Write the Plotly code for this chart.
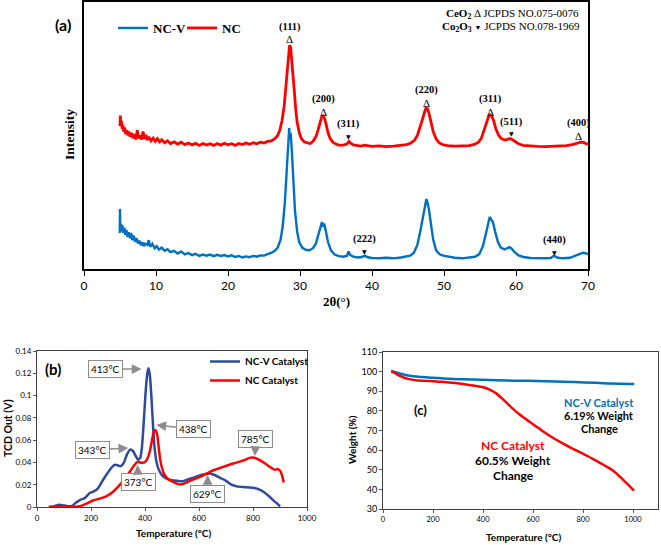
import plotly.graph_objects as go

SERIF = "Liberation Serif"
SANS = "Lato"

# ---------------- (a) XRD data : (2theta, intensity a.u.) ----------------
xrd_ticks = [0, 10, 20, 30, 40, 50, 60, 70]

ncv_xrd = [
    (4.97, 13.5), (5.0, 22.5), (5.03, 14.5), (5.1, 17.0), (5.2, 14.0), (5.3, 16.5), (5.45, 13.5), (5.6, 15.5),
    (5.75, 12.8), (5.9, 14.5), (6.05, 12.0), (6.2, 13.8), (6.4, 11.5), (6.55, 13.5), (6.7, 10.8), (6.9, 12.5),
    (7.1, 10.2), (7.3, 11.5), (7.5, 9.6), (7.7, 10.6), (7.9, 8.9), (8.1, 10.0), (8.3, 8.6), (8.5, 9.5),
    (8.8, 9.0), (9.0, 10.8), (9.2, 8.3), (9.5, 9.4), (9.8, 7.8), (10.1, 8.6), (10.4, 7.3), (10.8, 8.0),
    (11.2, 6.8), (11.6, 7.4), (12.0, 6.3), (12.5, 6.8), (13.0, 5.8), (13.5, 6.6), (14.0, 5.5), (14.5, 6.0),
    (15.0, 5.2), (15.5, 5.7), (16.0, 4.9), (16.5, 5.4), (17.0, 5.0), (17.5, 5.4), (18.0, 4.8), (18.5, 5.3),
    (19.0, 4.9), (19.5, 5.2), (20.0, 4.7), (20.5, 5.1), (21.0, 4.5), (21.5, 4.9), (22.0, 4.3), (22.5, 4.7),
    (23.0, 4.4), (23.5, 4.9), (24.0, 4.6), (24.5, 5.1), (25.0, 5.0), (25.5, 5.6), (26.0, 6.0), (26.5, 6.8),
    (26.9, 8.0), (27.3, 11.0), (27.6, 16.0), (27.9, 25.0), (28.15, 36.0), (28.35, 46.0), (28.5, 52.8),
    (28.6, 48.5), (28.7, 51.0), (28.85, 45.0), (29.05, 34.0), (29.3, 22.0), (29.6, 14.0), (29.9, 10.0),
    (30.3, 8.0), (30.8, 7.2), (31.3, 7.0), (31.8, 7.8), (32.2, 9.5), (32.6, 13.0), (32.9, 16.5), (33.05, 17.6),
    (33.2, 15.8), (33.35, 17.0), (33.6, 14.0), (33.9, 10.0), (34.3, 7.0), (34.8, 5.4), (35.4, 4.8), (36.0, 4.6),
    (36.5, 4.9), (36.75, 6.6), (36.95, 5.3), (37.4, 4.6), (38.0, 4.3), (38.6, 4.5), (39.0, 5.0), (39.4, 4.4),
    (40.0, 4.1), (41.0, 4.0), (42.0, 4.2), (43.0, 4.0), (44.0, 4.3), (44.8, 4.8), (45.3, 5.0), (45.8, 6.0),
    (46.3, 9.0), (46.7, 14.0), (47.1, 20.0), (47.4, 24.5), (47.55, 26.2), (47.7, 25.0), (47.9, 22.5),
    (48.2, 16.5), (48.5, 11.0), (48.9, 7.0), (49.4, 5.5), (49.9, 5.0), (50.5, 4.6), (51.5, 4.2), (52.5, 4.0),
    (53.5, 4.2), (54.3, 4.6), (54.9, 5.6), (55.4, 8.5), (55.8, 13.0), (56.1, 17.0), (56.35, 19.5),
    (56.55, 18.6), (56.8, 17.5), (57.1, 14.0), (57.5, 10.0), (57.9, 8.0), (58.4, 7.3), (58.8, 7.8),
    (59.1, 8.2), (59.4, 7.6), (59.8, 6.3), (60.3, 5.2), (61.0, 4.5), (62.0, 4.1), (63.0, 4.0), (64.0, 4.0),
    (64.8, 4.1), (65.3, 5.0), (65.7, 4.3), (66.5, 4.0), (67.5, 4.2), (68.2, 4.8), (68.8, 5.6), (69.3, 6.1),
    (69.7, 5.9), (70.0, 5.4),
]

nc_xrd = [
    (5.0, 53.5), (5.05, 57.5), (5.1, 54.0), (5.2, 55.5), (5.3, 52.5), (5.4, 54.0), (5.5, 51.5), (5.65, 53.0),
    (5.8, 50.5), (5.95, 52.0), (6.1, 50.0), (6.25, 51.5), (6.4, 49.5), (6.6, 51.0), (6.8, 49.0), (7.0, 50.5),
    (7.2, 48.5), (7.4, 52.0), (7.6, 49.0), (7.8, 50.0), (8.0, 48.5), (8.2, 51.5), (8.4, 48.8), (8.6, 50.2),
    (8.8, 48.3), (9.0, 49.5), (9.3, 48.0), (9.6, 49.0), (9.9, 47.8), (10.2, 48.8), (10.5, 47.6), (10.8, 48.4),
    (11.2, 47.3), (11.6, 48.0), (12.0, 47.0), (12.5, 47.6), (13.0, 46.8), (13.5, 47.5), (14.0, 46.6),
    (14.5, 47.2), (15.0, 46.5), (15.5, 47.1), (16.0, 46.3), (16.5, 47.0), (17.0, 46.4), (17.5, 46.9),
    (18.0, 46.3), (18.5, 47.0), (19.0, 46.4), (19.5, 47.1), (20.0, 46.5), (20.5, 46.9), (21.0, 46.3),
    (21.5, 47.0), (22.0, 46.6), (22.5, 47.2), (23.0, 46.7), (23.5, 47.3), (24.0, 46.9), (24.5, 47.5),
    (25.0, 47.2), (25.5, 47.8), (26.0, 48.0), (26.5, 48.8), (26.9, 50.0), (27.2, 52.0), (27.5, 55.5),
    (27.8, 61.0), (28.0, 67.0), (28.2, 74.0), (28.4, 80.5), (28.55, 83.8), (28.7, 83.0), (28.85, 79.0),
    (29.0, 74.0), (29.2, 67.0), (29.4, 60.0), (29.6, 55.0), (29.9, 51.0), (30.2, 48.8), (30.6, 47.6),
    (31.0, 47.2), (31.4, 47.0), (31.8, 47.8), (32.2, 49.5), (32.5, 52.0), (32.8, 55.0), (33.0, 56.8),
    (33.2, 57.3), (33.4, 56.5), (33.6, 54.5), (33.9, 51.0), (34.2, 48.8), (34.6, 47.4), (35.0, 46.8),
    (35.5, 46.3), (36.0, 46.4), (36.5, 46.8), (36.8, 47.8), (37.0, 47.2), (37.4, 46.5), (38.0, 46.2),
    (38.5, 46.0), (39.0, 46.4), (39.5, 46.1), (40.0, 45.9), (41.0, 46.1), (42.0, 45.8), (43.0, 46.0),
    (44.0, 46.2), (44.8, 46.6), (45.4, 47.2), (45.9, 48.2), (46.3, 50.0), (46.7, 53.0), (47.0, 56.0),
    (47.3, 58.8), (47.5, 60.3), (47.7, 60.0), (47.9, 58.5), (48.2, 55.0), (48.5, 51.5), (48.9, 48.8),
    (49.3, 47.3), (49.8, 46.6), (50.5, 46.2), (51.5, 46.0), (52.5, 46.0), (53.5, 46.2), (54.2, 46.7),
    (54.8, 47.5), (55.2, 49.0), (55.6, 52.0), (55.9, 55.0), (56.2, 57.2), (56.4, 57.8), (56.6, 57.5),
    (56.9, 55.5), (57.2, 52.5), (57.6, 50.0), (58.0, 48.8), (58.5, 48.3), (58.9, 48.6), (59.2, 48.9),
    (59.5, 48.4), (59.9, 47.6), (60.4, 46.8), (61.0, 46.3), (62.0, 46.0), (63.0, 45.9), (64.0, 45.8),
    (65.0, 45.9), (66.0, 46.0), (67.0, 46.2), (67.8, 46.6), (68.5, 47.1), (69.0, 47.5), (69.4, 47.4),
    (69.8, 46.9), (70.0, 46.6),
]

# peak labels: (label, x, y_label, marker, y_marker)
xrd_peaks = [
    ("(111)", 28.6, 90.6, "Δ", 86.3),
    ("(200)", 33.2, 63.7, "Δ", 58.9),
    ("(311)", 36.8, 54.3, "▼", 49.8),
    ("(220)", 47.6, 67.0, "Δ", 62.2),
    ("(311)", 56.5, 63.7, "Δ", 58.7),
    ("(511)", 59.4, 55.1, "▼", 50.6),
    ("(400)", 68.7, 54.7, "Δ", 49.9),
    ("(222)", 39.0, 11.2, "▼", 6.4),
    ("(440)", 65.4, 10.9, "▼", 6.0),
]

# ---------------- (b) H2-TPR data : (temperature C, TCD V) ----------------
tpr_ncv = [
    (43, 0.0), (60, 0.0005), (83, 0.002), (100, 0.0013), (115, 0.0006), (130, 0.001), (145, 0.004),
    (160, 0.0065), (176, 0.0078), (195, 0.0125), (210, 0.014), (225, 0.0165), (244, 0.024), (260, 0.030),
    (275, 0.035), (287, 0.0378), (298, 0.0375), (308, 0.0365), (320, 0.039), (333, 0.047), (345, 0.0515),
    (355, 0.0505), (365, 0.046), (374, 0.0425), (382, 0.044), (388, 0.052), (395, 0.075), (402, 0.102),
    (408, 0.119), (413, 0.1245), (418, 0.118), (424, 0.098), (430, 0.072), (436, 0.052), (443, 0.040),
    (452, 0.033), (465, 0.028), (480, 0.0255), (500, 0.024), (520, 0.0235), (540, 0.0232), (556, 0.0245),
    (575, 0.026), (600, 0.028), (620, 0.0293), (640, 0.0300), (660, 0.0285), (680, 0.026), (700, 0.0235),
    (720, 0.020), (740, 0.0185), (770, 0.0178), (800, 0.0172), (820, 0.016), (840, 0.0135), (860, 0.0095),
    (875, 0.006), (890, 0.003), (900, 0.0005),
]
tpr_nc = [
    (46, 0.0), (80, 0.0), (110, 0.0), (140, 0.0002), (160, 0.0008), (182, 0.003), (207, 0.0058),
    (232, 0.0075), (256, 0.0096), (281, 0.0135), (306, 0.0196), (331, 0.027), (350, 0.034), (362, 0.038),
    (372, 0.0405), (385, 0.0398), (398, 0.040), (408, 0.043), (418, 0.050), (426, 0.060), (433, 0.0675),
    (439, 0.069), (445, 0.065), (450, 0.055), (456, 0.043), (463, 0.035), (472, 0.029), (486, 0.025),
    (504, 0.0225), (520, 0.0208), (530, 0.0202), (545, 0.021), (560, 0.0228), (580, 0.0248), (603, 0.027),
    (628, 0.030), (653, 0.033), (690, 0.036), (727, 0.039), (765, 0.0418), (790, 0.0443), (805, 0.0442),
    (825, 0.042), (845, 0.039), (862, 0.036), (880, 0.0335), (892, 0.034), (902, 0.032), (909, 0.027),
    (914, 0.022),
]
# callouts: (text, x tip, y tip, ax, ay)
tpr_callouts = [
    ("413°C", 387, 0.1238, -36, 0),
    ("438°C", 442, 0.0736, 37, 4),
    ("343°C", 338, 0.0529, -36, 2),
    ("373°C", 372, 0.0377, 1, 17),
    ("785°C", 807, 0.0458, 1, -17),
    ("629°C", 632, 0.0287, 0, 19),
]

# ---------------- (c) TGA data : (temperature C, weight %) ----------------
tga_ncv = [
    (33, 100.3), (60, 99.3), (90, 98.3), (120, 97.6), (160, 97.2), (200, 96.9), (260, 96.4), (321, 96.1),
    (390, 95.8), (454, 95.6), (520, 95.4), (586, 95.3), (650, 95.1), (719, 94.9), (785, 94.6), (851, 94.3),
    (900, 94.0), (950, 93.8), (1005, 93.7),
]
tga_nc = [
    (33, 100.3), (45, 99.5), (56, 98.6), (70, 97.7), (82, 97.0), (100, 96.3), (122, 95.8), (155, 95.4),
    (188, 95.2), (222, 94.9), (255, 94.6), (290, 94.2), (321, 93.7), (361, 92.9), (401, 92.0), (427, 90.8),
    (454, 88.8), (475, 86.5), (493, 84.3), (533, 79.5), (560, 76.9), (586, 74.4), (620, 71.4), (653, 68.5),
    (686, 65.8), (719, 63.4), (752, 61.2), (785, 59.1), (818, 57.0), (851, 54.7), (885, 52.3), (918, 49.8),
    (960, 45.0), (1004, 39.4),
]


def xs(p):
    return [a for a, _ in p]


def ys(p):
    return [b for _, b in p]


BLUE = "#0070C0"
NAVY = "#2E4B9B"
RED = "#FF0000"

fig = go.Figure()
# (a)
fig.add_trace(go.Scatter(x=xs(ncv_xrd), y=ys(ncv_xrd), mode="lines", name="NC-V",
                         line=dict(color=BLUE, width=2.4), xaxis="x", yaxis="y", legend="legend"))
fig.add_trace(go.Scatter(x=xs(nc_xrd), y=ys(nc_xrd), mode="lines", name="NC",
                         line=dict(color=RED, width=2.8), xaxis="x", yaxis="y", legend="legend"))
# (b)
fig.add_trace(go.Scatter(x=xs(tpr_ncv), y=ys(tpr_ncv), mode="lines", name="NC-V Catalyst",
                         line=dict(color=NAVY, width=2.5, shape="spline", smoothing=0.6),
                         xaxis="x2", yaxis="y2", legend="legend2"))
fig.add_trace(go.Scatter(x=xs(tpr_nc), y=ys(tpr_nc), mode="lines", name="NC Catalyst",
                         line=dict(color=RED, width=2.5, shape="spline", smoothing=0.6),
                         xaxis="x2", yaxis="y2", legend="legend2"))
# (c)
fig.add_trace(go.Scatter(x=xs(tga_ncv), y=ys(tga_ncv), mode="lines", name="NC-V Catalyst",
                         line=dict(color=BLUE, width=2.5, shape="spline"), xaxis="x3", yaxis="y3",
                         showlegend=False))
fig.add_trace(go.Scatter(x=xs(tga_nc), y=ys(tga_nc), mode="lines", name="NC Catalyst",
                         line=dict(color=RED, width=2.5, shape="spline"), xaxis="x3", yaxis="y3",
                         showlegend=False))

W, H = 661, 545


def px(x):
    return x / W


def py(y):
    return 1 - y / H


def ptext(x, y, text, size, family=SANS, color="black", angle=0, xanchor="center"):
    return dict(x=px(x), y=py(y), xref="paper", yref="paper", xanchor=xanchor, yanchor="middle",
                showarrow=False, text=text, textangle=angle,
                font=dict(family=family, size=size, color=color))


ann = []
# panel (a) annotations
for lab, x, yl, mk, ym in xrd_peaks:
    ann.append(dict(x=x, y=yl, xref="x", yref="y", text="<b>%s</b>" % lab, showarrow=False,
                    xanchor="center", yanchor="middle",
                    font=dict(family=SERIF, size=10.5, color="black")))
    if mk == "Δ":
        ann.append(dict(x=x, y=ym, xref="x", yref="y", text="Δ", showarrow=False,
                        xanchor="center", yanchor="middle",
                        font=dict(family=SERIF, size=11, color="black")))
    else:
        ann.append(dict(x=x, y=ym, xref="x", yref="y", text="▼", showarrow=False,
                        xanchor="center", yanchor="middle",
                        font=dict(family="DejaVu Sans", size=6, color="black")))

ann += [
    ptext(581, 14, "<b>CeO<sub>2</sub></b> Δ JCPDS NO.075-0076", 11, SERIF, xanchor="right"),
    ptext(582, 27, "<b>Co<sub>2</sub>O<sub>3</sub></b> <span style='font-size:7px'>▼</span> JCPDS NO.078-1969",
          11, SERIF, xanchor="right"),
    ptext(63, 25, "<b>(a)</b>", 16),
    ptext(69, 135, "<b>Intensity</b>", 13.5, SERIF, angle=-90),
    ptext(336, 301, "<b>2θ(°)</b>", 13, SERIF),
]

# panel (b)
for t, x, y, ax, ay in tpr_callouts:
    ann.append(dict(x=x, y=y, xref="x2", yref="y2", text=t, showarrow=True, ax=ax, ay=ay,
                    arrowcolor="#8C8C8C", arrowwidth=1.5, arrowhead=2, arrowsize=1.3,
                    bordercolor="#8C8C8C", borderwidth=1, borderpad=2, bgcolor="white",
                    font=dict(family=SANS, size=10, color="black")))
ann += [
    ptext(53, 369, "<b>(b)</b>", 15),
    ptext(8, 428, "<b>TCD Out (V)</b>", 10.5, angle=-90),
    ptext(173, 533, "<b>Temperature (°C)</b>", 10),
]

# panel (c)
ann += [
    ptext(420, 410, "<b>(c)</b>", 13),
    ptext(352, 440, "<b>Weight (%)</b>", 10, angle=-90),
    ptext(523, 537, "<b>Temperature (°C)</b>", 10),
    ptext(599, 402, "<b>NC-V Catalyst</b>", 11, color=BLUE),
    ptext(599, 415, "<b>6.19% Weight</b>", 11),
    ptext(599, 428, "<b>Change</b>", 11),
    ptext(513, 445, "<b>NC Catalyst</b>", 12, color=RED),
    ptext(513, 460, "<b>60.5% Weight</b>", 12),
    ptext(513, 475, "<b>Change</b>", 12),
]

common = dict(showgrid=False, zeroline=False, showline=True, mirror=True, automargin=False)

fig.update_layout(
    width=W, height=H, margin=dict(l=0, r=0, t=0, b=0, pad=0, autoexpand=False),
    paper_bgcolor="white", plot_bgcolor="white",
    annotations=ann,
    xaxis=dict(domain=[px(84), px(588)], range=[0, 70], tickvals=xrd_ticks, ticks="outside", ticklen=5,
               tickcolor="black", linecolor="black", linewidth=1.5, anchor="y",
               tickfont=dict(family=SANS, size=12, color="black"), **common),
    yaxis=dict(domain=[py(269), py(2)], range=[0, 100], showticklabels=False, ticks="",
               linecolor="black", linewidth=1.5, anchor="x", **common),
    xaxis2=dict(domain=[px(37), px(307)], range=[0, 1000], dtick=200, ticks="outside", ticklen=3,
                tickcolor="#595959", linecolor="#404040", linewidth=1, anchor="y2",
                tickfont=dict(family=SANS, size=8, color="black"), **common),
    yaxis2=dict(domain=[py(507), py(351)], range=[0, 0.14], dtick=0.02, ticks="outside", ticklen=3,
                tickcolor="#595959", linecolor="#404040", linewidth=1, anchor="x2",
                tickfont=dict(family=SANS, size=8, color="black"), **common),
    xaxis3=dict(domain=[px(383), px(658)], range=[0, 1100], tickvals=[0, 200, 400, 600, 800, 1000],
                ticks="outside", ticklen=3, tickcolor="#595959", linecolor="#404040", linewidth=1,
                anchor="y3", tickfont=dict(family=SANS, size=7.5, color="black"), **common),
    yaxis3=dict(domain=[py(509), py(352)], range=[30, 110], dtick=10, ticks="outside", ticklen=3,
                tickcolor="#595959", linecolor="#404040", linewidth=1, anchor="x3",
                tickfont=dict(family=SANS, size=9, color="black"), **common),
    legend=dict(orientation="h", x=px(113), y=py(28), xanchor="left", yanchor="middle",
                bgcolor="rgba(0,0,0,0)", font=dict(family=SERIF, size=13, color="black", weight="bold"),
                itemwidth=30, entrywidth=24, tracegroupgap=0),
    legend2=dict(orientation="v", x=px(205), y=py(347), xanchor="left", yanchor="top",
                 bgcolor="rgba(0,0,0,0)", font=dict(family=SANS, size=10, color="black", weight="bold"),
                 itemwidth=30, tracegroupgap=0),
)

fig.write_html("out.html")
